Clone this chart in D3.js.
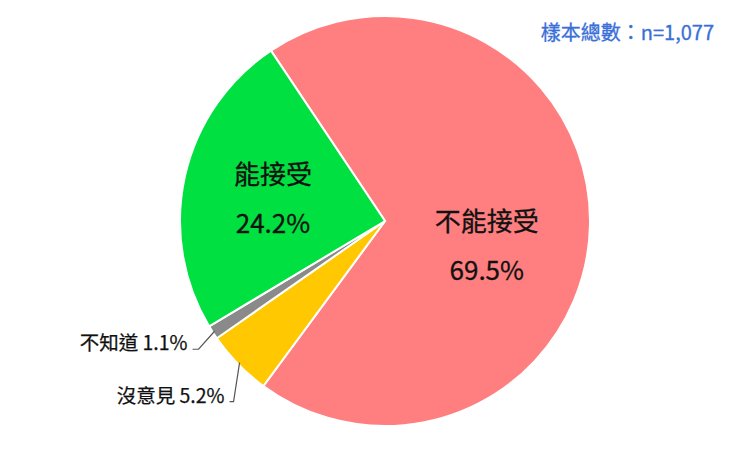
<!DOCTYPE html>
<html>
<head>
<meta charset="utf-8">
<script src="https://cdn.jsdelivr.net/npm/d3@7"></script>
<style>
	body { margin: 0; background: #fff; }
	text { font-family: "Noto Sans CJK TC", "Noto Sans", sans-serif; }
</style>
</head>
<body>
<div id="chart"></div>
<script>
var categories = ['不能接受', '沒意見', '不知道', '能接受'];
var values = [69.5, 5.2, 1.1, 24.2];
var colors = ['#ff7f80', '#ffc800', '#8a8a8a', '#00e040'];
var sampleText = '樣本總數：n=1,077';

var width = 750, height = 462;
var cx = 385, cy = 221, radius = 205;

// big labels sit inside, the two small ones go outside with a leader line
var inside = {'不能接受': [-13, 22], '能接受': [0, 3]};
var outside = {'沒意見': [-6, 39, -4], '不知道': [-16, 18, -6]};

var svg = d3.select('#chart').append('svg')
	.attr('width', width).attr('height', height);

svg.append('text')
	.attr('x', 714).attr('y', 40)
	.attr('text-anchor', 'end')
	.attr('fill', '#3a6fd8')
	.attr('font-size', 20)
	.attr('stroke', '#3a6fd8')
	.attr('stroke-width', 0.3)
	.text(sampleText);

var start = -33.8 * Math.PI / 180;
var pie = d3.pie().sort(null).value(function(d) { return d.value; })
	.startAngle(start).endAngle(start + 2 * Math.PI);

var data = pie(categories.map(function(c, i) {
	return {name: c, value: values[i], color: colors[i]};
}));

var arc = d3.arc().innerRadius(0).outerRadius(radius);
var centroidArc = d3.arc().innerRadius(radius * 1.12).outerRadius(0);

var g = svg.append('g').attr('transform', 'translate(' + cx + ',' + cy + ')');

g.selectAll('path.slice')
	.data(data)
	.enter().append('path')
	.attr('class', 'slice')
	.attr('d', arc)
	.attr('fill', function(d) { return d.data.color; })
	.attr('stroke', '#fff')
	.attr('stroke-width', 2);

data.forEach(function(d) {
	var name = d.data.name;
	if (inside[name]) {
		var c = centroidArc.centroid(d);
		var x = c[0] + inside[name][0], y = c[1] + inside[name][1];
		var t = g.append('text')
			.attr('text-anchor', 'middle')
			.attr('font-size', 26)
			.attr('fill', '#111')
			.attr('stroke', '#111')
			.attr('stroke-width', 0.3);
		t.append('tspan').attr('x', x).attr('y', y - 15).text(name);
		t.append('tspan').attr('x', x).attr('y', y + 34).text(d3.format('.1f')(d.data.value) + '%');
	} else {
		var o = outside[name];
		var mid = (d.startAngle + d.endAngle) / 2;
		var p0 = [Math.sin(mid) * (radius - 2), -Math.cos(mid) * (radius - 2)];
		var p1 = [p0[0] + o[0], p0[1] + o[1]];
		var p2 = [p1[0] + o[2], p1[1]];
		g.append('polyline')
			.attr('points', [p0, p1, p2].map(function(p) { return p.join(','); }).join(' '))
			.attr('fill', 'none')
			.attr('stroke', '#555')
			.attr('stroke-width', 1.2);
		g.append('text')
			.attr('x', p2[0] - 5).attr('y', p2[1] + 1)
			.attr('text-anchor', 'end')
			.attr('font-size', 19.5)
			.attr('fill', '#111')
			.attr('stroke', '#111')
			.attr('stroke-width', 0.25)
			.text(name + ' ' + d3.format('.1f')(d.data.value) + '%');
	}
});
</script>
</body>
</html>
